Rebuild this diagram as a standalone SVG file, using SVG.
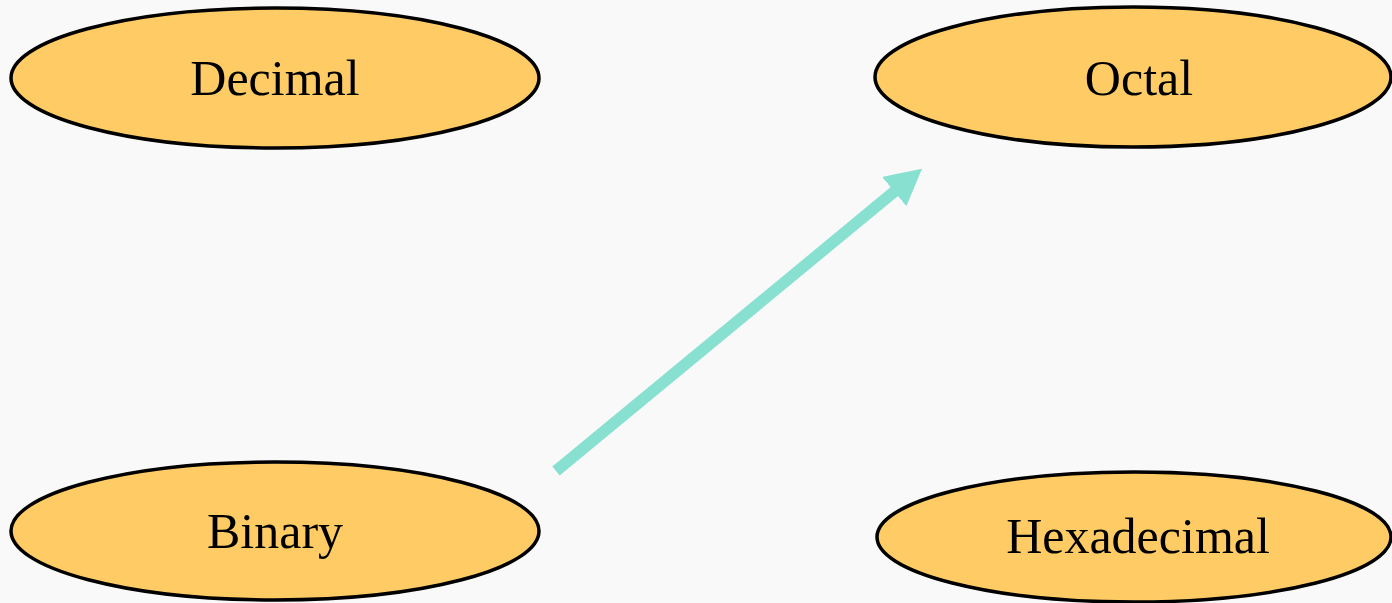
<svg xmlns="http://www.w3.org/2000/svg" width="1392" height="603" viewBox="0 0 1392 603">
<style>
.node ellipse{fill:#FECB65;stroke:#000;stroke-width:3.5}
.node text{font-family:"Liberation Serif",serif;font-size:50px;fill:#000;text-anchor:middle}
.conn{stroke:#88E0D0;stroke-width:11.5;fill:none}
</style>
<defs>
<marker id="ah" viewBox="0 0 36 38" refX="1" refY="19" markerWidth="36" markerHeight="38" markerUnits="userSpaceOnUse" orient="auto">
<path d="M0,0 L36,19 L0,38 Z" fill="#88E0D0"/>
</marker>
</defs>
<rect width="1392" height="603" fill="#F9F9F9"/>
<g id="decimal" class="node">
<ellipse cx="275" cy="78" rx="264" ry="70"/>
<text x="275" y="95">Decimal</text>
</g>
<g id="octal" class="node">
<ellipse cx="1133" cy="77" rx="258" ry="70"/>
<text x="1139" y="95">Octal</text>
</g>
<g id="binary" class="node">
<ellipse cx="275" cy="531" rx="264" ry="69"/>
<text x="275" y="548">Binary</text>
</g>
<g id="hexadecimal" class="node">
<ellipse cx="1134" cy="537" rx="257" ry="65"/>
<text x="1138" y="553">Hexadecimal</text>
</g>
<g id="connectors">
<line class="conn" x1="556" y1="471" x2="895" y2="191" marker-end="url(#ah)"/>
</g>
</svg>
